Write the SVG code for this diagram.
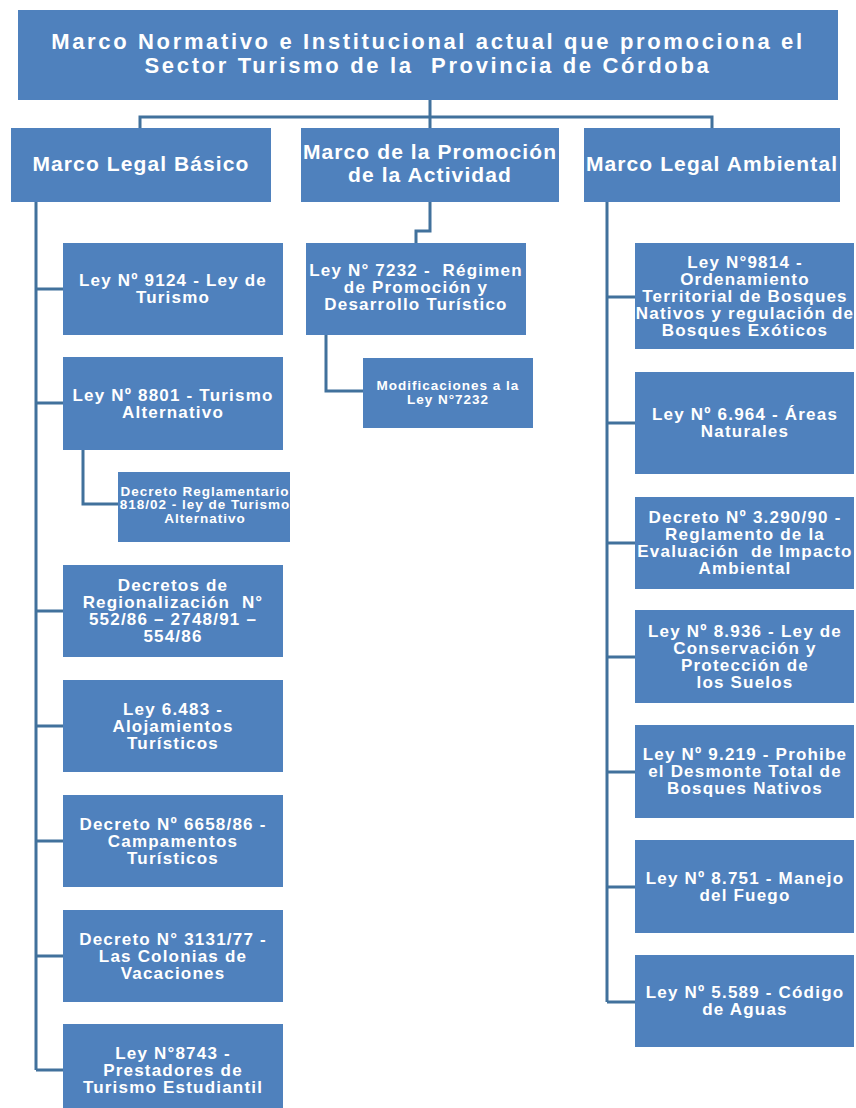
<svg xmlns="http://www.w3.org/2000/svg" width="856" height="1108" viewBox="0 0 856 1108">
<style>
.box{fill:#4F81BD;}
.t{font-family:"Liberation Sans",Arial,sans-serif;font-weight:bold;fill:#fff;text-anchor:middle;white-space:pre;}
.title{font-size:22px;letter-spacing:2.65px;}
.h2{font-size:21px;letter-spacing:1.1px;}
.b{font-size:17px;letter-spacing:1.2px;}
.s{font-size:13.5px;letter-spacing:1px;}
.c{fill:none;stroke:#41719C;stroke-width:3;}
</style>
<rect width="856" height="1108" fill="#fff"/>
<g id="connectors">
<path class="c" d="M430 100V128M140 128V117H712V128"/>
<path class="c" d="M36 202V1070M36 289H63M36 403H63M36 611H63M36 726H63M36 841H63M36 956H63M36 1070H63"/>
<path class="c" d="M83 450V504H118"/>
<path class="c" d="M430 202V231H416V243"/>
<path class="c" d="M326 335V391H363"/>
<path class="c" d="M607 202V1002M607 297H635M607 423H635M607 543H635M607 657H635M607 772H635M607 887H635M607 1002H635"/>
</g>
<g id="n0"><rect class="box" x="18" y="10" width="820" height="90"/>
<text class="t title"><tspan x="428" y="49">Marco Normativo e Institucional actual que promociona el</tspan><tspan x="428" y="73">Sector Turismo de la  Provincia de Córdoba</tspan></text></g>
<g id="n1"><rect class="box" x="11" y="128" width="260" height="74"/>
<text class="t h2"><tspan x="141" y="171">Marco Legal Básico</tspan></text></g>
<g id="n2"><rect class="box" x="301" y="128" width="258" height="74"/>
<text class="t h2"><tspan x="430" y="159">Marco de la Promoción</tspan><tspan x="430" y="182">de la Actividad</tspan></text></g>
<g id="n3"><rect class="box" x="584" y="128" width="256" height="74"/>
<text class="t h2"><tspan x="712" y="171">Marco Legal Ambiental</tspan></text></g>

<g id="l1"><rect class="box" x="63" y="243" width="220" height="92"/>
<text class="t b"><tspan x="173" y="286">Ley Nº 9124 - Ley de</tspan><tspan x="173" y="303">Turismo</tspan></text></g>
<g id="l2"><rect class="box" x="63" y="357" width="220" height="93"/>
<text class="t b"><tspan x="173" y="401">Ley Nº 8801 - Turismo</tspan><tspan x="173" y="418">Alternativo</tspan></text></g>
<g id="l2a"><rect class="box" x="118" y="472" width="172" height="70"/>
<text class="t s"><tspan x="205" y="495.5">Decreto Reglamentario</tspan><tspan x="205" y="509">818/02 - ley de Turismo</tspan><tspan x="205" y="522.5">Alternativo</tspan></text></g>
<g id="l3"><rect class="box" x="63" y="565" width="220" height="92"/>
<text class="t b"><tspan x="173" y="591">Decretos de</tspan><tspan x="173" y="608">Regionalización  N°</tspan><tspan x="173" y="625">552/86 – 2748/91 –</tspan><tspan x="173" y="642">554/86</tspan></text></g>
<g id="l4"><rect class="box" x="63" y="680" width="220" height="92"/>
<text class="t b"><tspan x="173" y="715">Ley 6.483 -</tspan><tspan x="173" y="732">Alojamientos</tspan><tspan x="173" y="749">Turísticos</tspan></text></g>
<g id="l5"><rect class="box" x="63" y="795" width="220" height="92"/>
<text class="t b"><tspan x="173" y="830">Decreto Nº 6658/86 -</tspan><tspan x="173" y="847">Campamentos</tspan><tspan x="173" y="864">Turísticos</tspan></text></g>
<g id="l6"><rect class="box" x="63" y="910" width="220" height="92"/>
<text class="t b"><tspan x="173" y="945">Decreto N° 3131/77 -</tspan><tspan x="173" y="962">Las Colonias de</tspan><tspan x="173" y="979">Vacaciones</tspan></text></g>
<g id="l7"><rect class="box" x="63" y="1024" width="220" height="92"/>
<text class="t b"><tspan x="173" y="1059">Ley N°8743 -</tspan><tspan x="173" y="1076">Prestadores de</tspan><tspan x="173" y="1093">Turismo Estudiantil</tspan></text></g>

<g id="m1"><rect class="box" x="306" y="243" width="220" height="92"/>
<text class="t b"><tspan x="416" y="276">Ley N° 7232 -  Régimen</tspan><tspan x="416" y="293">de Promoción y</tspan><tspan x="416" y="310">Desarrollo Turístico</tspan></text></g>
<g id="m1a"><rect class="box" x="363" y="358" width="170" height="70"/>
<text class="t s"><tspan x="448" y="390">Modificaciones a la</tspan><tspan x="448" y="404">Ley N°7232</tspan></text></g>

<g id="r1"><rect class="box" x="635" y="243" width="219" height="106"/>
<text class="t b"><tspan x="745" y="268">Ley N°9814 -</tspan><tspan x="745" y="285">Ordenamiento</tspan><tspan x="745" y="302">Territorial de Bosques</tspan><tspan x="745" y="319">Nativos y regulación de</tspan><tspan x="745" y="336">Bosques Exóticos</tspan></text></g>
<g id="r2"><rect class="box" x="635" y="372" width="219" height="102"/>
<text class="t b"><tspan x="745" y="420">Ley Nº 6.964 - Áreas</tspan><tspan x="745" y="437">Naturales</tspan></text></g>
<g id="r3"><rect class="box" x="635" y="497" width="219" height="92"/>
<text class="t b"><tspan x="745" y="523">Decreto Nº 3.290/90 -</tspan><tspan x="745" y="540">Reglamento de la</tspan><tspan x="745" y="557">Evaluación  de Impacto</tspan><tspan x="745" y="574">Ambiental</tspan></text></g>
<g id="r4"><rect class="box" x="635" y="610" width="219" height="93"/>
<text class="t b"><tspan x="745" y="637">Ley Nº 8.936 - Ley de</tspan><tspan x="745" y="654">Conservación y</tspan><tspan x="745" y="671">Protección de</tspan><tspan x="745" y="688">los Suelos</tspan></text></g>
<g id="r5"><rect class="box" x="635" y="725" width="219" height="93"/>
<text class="t b"><tspan x="745" y="760">Ley Nº 9.219 - Prohibe</tspan><tspan x="745" y="777">el Desmonte Total de</tspan><tspan x="745" y="794">Bosques Nativos</tspan></text></g>
<g id="r6"><rect class="box" x="635" y="840" width="219" height="93"/>
<text class="t b"><tspan x="745" y="884">Ley Nº 8.751 - Manejo</tspan><tspan x="745" y="901">del Fuego</tspan></text></g>
<g id="r7"><rect class="box" x="635" y="955" width="219" height="92"/>
<text class="t b"><tspan x="745" y="998">Ley Nº 5.589 - Código</tspan><tspan x="745" y="1015">de Aguas</tspan></text></g>
</svg>
